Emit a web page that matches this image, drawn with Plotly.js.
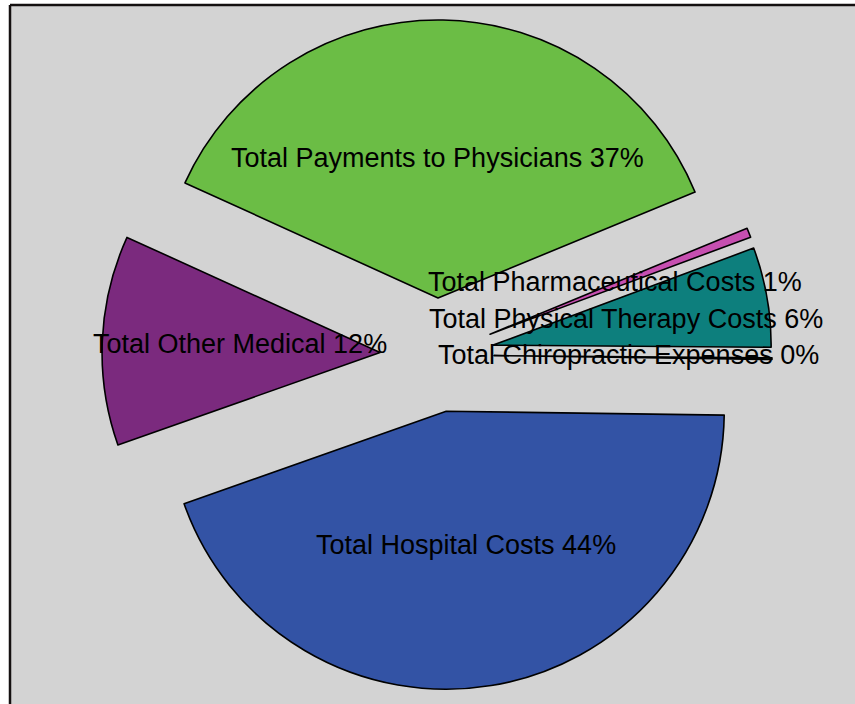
<!DOCTYPE html>
<html>
<head>
<meta charset="utf-8">
<script src="https://cdn.plot.ly/plotly-3.0.1.min.js"></script>
<style>html,body{margin:0;padding:0;background:#fff;}#chart{width:855px;height:704px;}</style>
</head>
<body>
<div id="chart"></div>
<script>
// ---- data ----
const labels = ['Total Hospital Costs', 'Total Other Medical', 'Total Payments to Physicians',
                'Total Pharmaceutical Costs', 'Total Physical Therapy Costs', 'Total Chiropractic Expenses'];
const values = [44.4, 12.2, 37.0, 0.55, 5.8, 0.1];
const colors = ['#3353a5', '#7b2a7e', '#6bbd45', '#c64fb0', '#0d7f7d', '#2f8f3a'];

// ---- layout constants (pixels) ----
const W = 855, H = 704;
const domPx = {x0: 37, x1: 837, y0: 20, y1: 690};
const pull = 0.205;
const startDeg = 0.8; // clockwise from 3 o'clock

const total = values.reduce((a, b) => a + b, 0);
const pctText = values.map(v => Math.round(v / total * 100) + '%');

const cx = (domPx.x0 + domPx.x1) / 2;
const cy = (domPx.y0 + domPx.y1) / 2;
const r = Math.min(domPx.x1 - domPx.x0, domPx.y1 - domPx.y0) / 2 / (1 + pull);

// label positions along each slice bisector
const annotations = [];
let cum = 0;
values.forEach((v, i) => {
  const mid = (startDeg + 360 * (cum + v / 2) / total) * Math.PI / 180;
  cum += v;
  const d = 0.7 * r;
  const px = cx + d * Math.cos(mid) - 3;
  const py = cy + d * Math.sin(mid) - 2;
  annotations.push({
    xref: 'paper', yref: 'paper', x: px / W, y: 1 - py / H,
    xanchor: 'center', yanchor: 'middle', showarrow: false,
    text: labels[i] + ' ' + pctText[i],
    font: {family: 'Liberation Sans, Arial, sans-serif', size: 27, color: '#000'}
  });
});

const trace = {
  type: 'pie',
  labels: labels,
  values: values,
  sort: false,
  direction: 'clockwise',
  rotation: 90 + startDeg,
  pull: values.map(() => pull),
  textinfo: 'none',
  hoverinfo: 'label+percent',
  marker: {colors: colors, line: {color: '#000', width: 1.6}},
  domain: {x: [domPx.x0 / W, domPx.x1 / W], y: [1 - domPx.y1 / H, 1 - domPx.y0 / H]},
  showlegend: false
};

const layout = {
  width: W, height: H,
  margin: {l: 0, r: 0, t: 0, b: 0},
  paper_bgcolor: '#d3d3d3',
  showlegend: false,
  annotations: annotations,
  shapes: [
    {type: 'rect', xref: 'paper', yref: 'paper', x0: -0.05, x1: 9 / W, y0: -0.05, y1: 1.05,
     fillcolor: '#ffffff', line: {width: 0}, layer: 'below'},
    {type: 'rect', xref: 'paper', yref: 'paper', x0: -0.05, x1: 1.05, y0: 1 - 5 / H, y1: 1.05,
     fillcolor: '#ffffff', line: {width: 0}, layer: 'below'},
    {type: 'line', xref: 'paper', yref: 'paper', x0: 10 / W, x1: 10 / W, y0: -0.05, y1: 1 - 5 / H,
     line: {color: '#141010', width: 2.5}},
    {type: 'line', xref: 'paper', yref: 'paper', x0: 10 / W, x1: 1.05, y0: 1 - 5 / H, y1: 1 - 5 / H,
     line: {color: '#141010', width: 2.5}}
  ]
};

Plotly.newPlot('chart', [trace], layout, {displayModeBar: false, staticPlot: true});
</script>
</body>
</html>
